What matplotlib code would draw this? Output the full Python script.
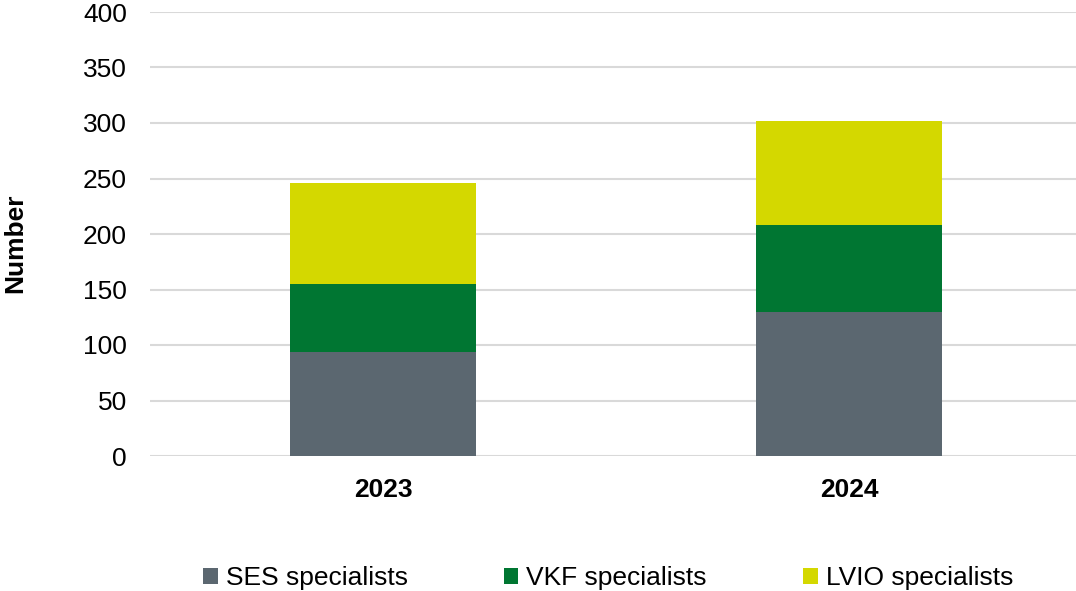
import matplotlib
matplotlib.use("Agg")
import matplotlib.pyplot as plt
from matplotlib.patches import Patch

plt.rcParams['font.family'] = ['Liberation Sans', 'DejaVu Sans']

years = ["2023", "2024"]
ses = [94, 130]
vkf = [61, 78]
lvio = [91, 94]
series_names = ["SES specialists", "VKF specialists", "LVIO specialists"]
colors = ["#5b6770", "#007632", "#d4d800"]
yticks = [0, 50, 100, 150, 200, 250, 300, 350, 400]

FS = 19

fig = plt.figure(figsize=(10.76, 5.91), dpi=100)
ax = fig.add_axes([150/1076, 1 - 456/591, (1082-150)/1076, (456-12)/591])

x = list(range(len(years)))
w = 0.4
b2 = [a + b for a, b in zip(ses, vkf)]
ax.bar(x, ses, width=w, color=colors[0], zorder=3)
ax.bar(x, vkf, width=w, bottom=ses, color=colors[1], zorder=3)
ax.bar(x, lvio, width=w, bottom=b2, color=colors[2], zorder=3)

ax.set_xlim(-0.5, 1.5)
ax.set_ylim(0, 400)
ax.set_yticks(yticks)
ax.set_yticklabels([str(v) for v in yticks], fontsize=FS)
ax.set_xticks(x)
ax.set_xticklabels(years, fontsize=FS, fontweight='bold')
ax.tick_params(axis='both', length=0)
ax.tick_params(axis='y', pad=16.5)
ax.tick_params(axis='x', pad=16)
ax.grid(axis='y', color='#d9d9d9', linewidth=1.5, zorder=0)
for s in ax.spines.values():
    s.set_visible(False)

fig.text(15/1076, 1 - 243/591, "Number", rotation=90, fontsize=FS, fontweight='bold',
         ha='center', va='center')

handles = [Patch(facecolor=c, edgecolor='none') for c in colors]
fig.legend(handles, series_names, loc='center', bbox_to_anchor=(608/1076, 1 - 578/591),
           ncol=3, frameon=False, fontsize=FS, handlelength=0.55, handleheight=0.55,
           handletextpad=0.3, columnspacing=3.65)

fig.savefig("out.png", dpi=100)
